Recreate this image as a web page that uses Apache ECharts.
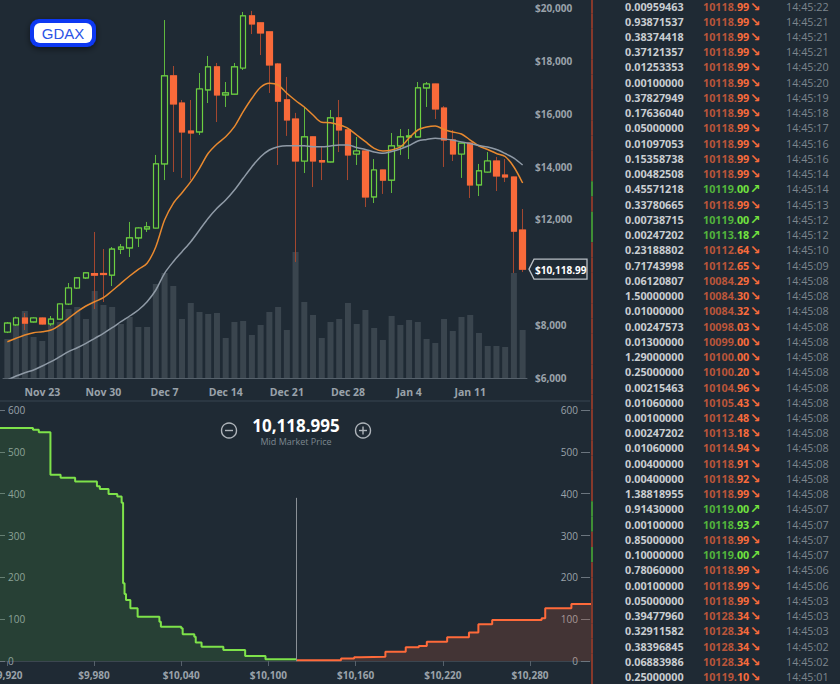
<!DOCTYPE html>
<html><head><meta charset="utf-8">
<script src="https://cdn.jsdelivr.net/npm/echarts@6/dist/echarts.min.js"></script>
<style>html,body{margin:0;padding:0;background:#1f2a34;overflow:hidden}#c{width:840px;height:684px}</style>
</head><body><div id="c"></div>
<script>
// ---------- candle chart data (Nov 19 2017 – Jan 17 2018, daily) ----------
const dates = ['Nov 19','Nov 20','Nov 21','Nov 22','Nov 23','Nov 24','Nov 25','Nov 26','Nov 27','Nov 28','Nov 29','Nov 30',
'Dec 1','Dec 2','Dec 3','Dec 4','Dec 5','Dec 6','Dec 7','Dec 8','Dec 9','Dec 10','Dec 11','Dec 12','Dec 13','Dec 14','Dec 15','Dec 16','Dec 17','Dec 18','Dec 19','Dec 20','Dec 21','Dec 22','Dec 23','Dec 24','Dec 25','Dec 26','Dec 27','Dec 28','Dec 29','Dec 30','Dec 31',
'Jan 1','Jan 2','Jan 3','Jan 4','Jan 5','Jan 6','Jan 7','Jan 8','Jan 9','Jan 10','Jan 11','Jan 12','Jan 13','Jan 14','Jan 15','Jan 16','Jan 17'];
const opens  = [7740,8010,8270,8120,8270,8045,8230,8800,9405,9785,9955,9955,9895,10880,10920,11300,11640,11675,14100,17430,16405,15345,15310,16900,17770,16710,16745,17730,19700,19435,19095,17880,16520,15800,14210,15120,14230,14175,15840,15385,14475,14590,12850,13870,13490,14780,15120,15120,16975,17125,16215,15005,14475,14890,13305,13795,14210,13680,13605,11600];
const closes = [8080,8270,8080,8270,8045,8230,8800,9405,9785,9975,9895,9915,10880,10955,11300,11675,11715,14100,17430,16370,15310,15270,16935,17770,16710,16785,17770,19700,19395,19055,17845,16480,15765,14210,15120,14210,14175,15840,15385,14440,14590,12850,13870,13490,14780,15120,15160,16975,17125,16180,15005,14475,14890,13305,13835,14210,13645,13605,11560,10118.99];
const lows   = [7700,7970,7815,8100,8020,7970,8210,8760,9370,9745,8610,8875,9480,10690,10580,10955,11525,11660,13490,13795,13570,13490,15195,16405,15685,16255,16740,17655,19015,18220,16785,14060,15160,10390,13755,13225,13490,14160,14550,13490,14060,12470,12620,12965,13000,14440,14285,15110,16255,15800,13985,14210,13570,12810,12885,13780,13075,13415,9975,10010];
const highs  = [8120,8320,8460,8290,8290,8345,8820,9595,9820,9990,11525,10880,10955,11070,11905,11700,11905,14440,19545,17805,16520,16520,17540,18185,17920,17200,17920,19850,19890,19450,19100,17920,17390,16030,16255,15140,14740,16140,16520,15400,15120,14600,14285,13880,15270,15420,15420,17200,17200,17140,16290,15385,14900,14900,14100,14550,14365,14285,13620,12395];
const volumes = [39,52,67,41,37,53,56,69,71,59,87,73,71,54,61,51,51,94,105,92,59,75,66,64,65,40,56,57,43,53,66,71,48,126,76,63,40,56,59,75,54,68,50,38,62,53,58,56,39,35,59,47,61,63,45,32,32,31,105,48];
const maFast = [7373,7502,7627,7714,7752,7816,8005,8259,8509,8724,8887,9038,9303,9583,9859,10113,10340,10968,11978,12610,13011,13428,13935,14502,14854,15130,15509,16076,16583,17000,17151,17087,16772,16500,16254,15951,15675,15660,15573,15448,15195,14941,14691,14589,14627,14741,15081,15384,15497,15535,15403,15308,15232,15005,14778,14646,14495,14380,13984,13378];
const maSlow = [5924,6076,6201,6303,6454,6617,6806,6995,7146,7313,7502,7691,7903,8130,8346,8573,8887,9330,9962,10401,10779,11157,11600,12043,12421,12735,13114,13556,13995,14374,14627,14752,14790,14790,14790,14752,14752,14778,14816,14816,14722,14646,14551,14502,14570,14665,14797,14968,15024,15070,15043,15005,14930,14873,14797,14741,14646,14495,14324,14060];
const lastPrice = 10118.99;
const priceMin = 6000, priceMax = 20000, priceStep = 2000;

// ---------- depth chart data ----------
const bidPrices = [9900,9938,9942,9950,9957,9967,9982,9984,9990,9996,9999,10000,10001,10002,10005,10010,10025,10026,10040,10041,10049,10050,10054,10069,10084,10098,10118.99];
const bidDepth  = [557,553,547,445,438,429,418,411,399,393,378,186,160,146,126,106,94,82,78,64,58,44,34,26,12,4,2];
const askPrices = [10118.99,10150,10159,10163.5,10180.5,10194.5,10203.5,10209,10223,10238,10244.5,10254,10288,10290.5,10308.5,10340];
const askDepth  = [2,6,9,10,22,33,36,46,57,68,88,98,102,126,136,136];
const depthTicks = [9920,9980,10040,10100,10160,10220,10280];
const midPrice = 10118.995;
const midLineTop = 390;

// ---------- trade history ----------
const tradeSizes = ['0.00959463','0.93871537','0.38374418','0.37121357','0.01253353','0.00100000','0.37827949','0.17636040','0.05000000','0.01097053','0.15358738','0.00482508','0.45571218','0.33780665','0.00738715','0.00247202','0.23188802','0.71743998','0.06120807','1.50000000','0.01000000','0.00247573','0.01300000','1.29000000','0.25000000','0.00215463','0.01060000','0.00100000','0.00247202','0.01060000','0.00400000','0.00400000','1.38818955','0.91430000','0.00100000','0.85000000','0.10000000','0.78060000','0.00100000','0.05000000','0.39477960','0.32911582','0.38396845','0.06883986','0.25000000'];
const tradePrices = ['10118.99','10118.99','10118.99','10118.99','10118.99','10118.99','10118.99','10118.99','10118.99','10118.99','10118.99','10118.99','10119.00','10118.99','10119.00','10113.18','10112.64','10112.65','10084.29','10084.30','10084.32','10098.03','10099.00','10100.00','10100.20','10104.96','10105.43','10112.48','10113.18','10114.94','10118.91','10118.92','10118.99','10119.00','10118.93','10118.99','10119.00','10118.99','10118.99','10118.99','10128.34','10128.34','10128.34','10128.34','10119.10'];
const tradeSides = ['s','s','s','s','s','s','s','s','s','s','s','s','b','s','b','b','s','s','s','s','s','s','s','s','s','s','s','s','s','s','s','s','s','b','b','s','b','s','s','s','s','s','s','s','s'];
const tradeTimes = ['14:45:22','14:45:21','14:45:21','14:45:21','14:45:20','14:45:20','14:45:19','14:45:18','14:45:17','14:45:16','14:45:16','14:45:14','14:45:14','14:45:13','14:45:12','14:45:12','14:45:10','14:45:09','14:45:08','14:45:08','14:45:08','14:45:08','14:45:08','14:45:08','14:45:08','14:45:08','14:45:08','14:45:08','14:45:08','14:45:08','14:45:08','14:45:08','14:45:08','14:45:07','14:45:07','14:45:07','14:45:07','14:45:06','14:45:06','14:45:03','14:45:03','14:45:03','14:45:02','14:45:02','14:45:01'];

// ---------- styles ----------
const BG = '#1f2a34';
const AX = '#9aa2aa';
const FONT = '"Open Sans", "DejaVu Sans", sans-serif';
const UP = '#6dd041', UP_WICK = '#5fb83e', DN = '#f86a3a', DN_WICK = '#a3472f';
const labelEvery7 = (i) => i >= 4 && (i - 4) % 7 === 0;

const chart = echarts.init(document.getElementById('c'), null, {renderer: 'svg'});

const candleFull = opens.map((o, i) => [o, closes[i], lows[i], highs[i]]);
const candleBody = opens.map((o, i) => [o, closes[i], Math.min(o, closes[i]), Math.max(o, closes[i])]);

const option = {
  backgroundColor: BG,
  animation: false,
  grid: [
    {left: 3, right: 313, top: 8, height: 370, containLabel: false, outerBoundsMode: 'none'},
    {left: 0, right: 250, top: 410, height: 251, containLabel: false, outerBoundsMode: 'none'}
  ],
  xAxis: [
    {type: 'category', gridIndex: 0, data: dates, boundaryGap: true,
      axisLine: {lineStyle: {color: '#56616b', width: 1}},
      axisTick: {alignWithLabel: true, interval: labelEvery7, length: 5, lineStyle: {color: '#56616b'}},
      axisLabel: {interval: labelEvery7, color: AX, fontWeight: 'bold', fontSize: 10.5, fontFamily: FONT, margin: 8},
      splitLine: {show: false}},
    {type: 'value', gridIndex: 1, min: 9915.3, max: 10321.3,
      axisLine: {show: true, lineStyle: {color: '#3b4650'}},
      axisTick: {show: true, customValues: depthTicks, length: 5, lineStyle: {color: '#56616b'}},
      axisLabel: {customValues: depthTicks, color: AX, fontWeight: 'bold', fontSize: 10, fontFamily: FONT, margin: 9,
        formatter: v => '$' + Number(v).toLocaleString('en-US')},
      splitLine: {show: false}}
  ],
  yAxis: [
    {type: 'value', gridIndex: 0, position: 'right', min: priceMin, max: priceMax, interval: priceStep,
      axisLine: {show: false}, axisTick: {show: false}, splitLine: {show: false},
      axisLabel: {color: AX, fontWeight: 'bold', fontSize: 10, fontFamily: FONT, margin: 8,
        formatter: v => (Math.abs(v - lastPrice) < 600 ? '' : '$' + v.toLocaleString('en-US'))}},
    {type: 'value', gridIndex: 0, min: 0, max: 370, show: false},
    {type: 'value', gridIndex: 1, position: 'left', min: 0, max: 600, interval: 100,
      axisLine: {show: false}, axisTick: {show: true, inside: true, length: 5, lineStyle: {color: '#6b757e'}},
      axisLabel: {inside: true, color: AX, fontSize: 10, fontFamily: FONT, margin: 8}, splitLine: {show: false}},
    {type: 'value', gridIndex: 1, position: 'right', min: 0, max: 600, interval: 100,
      axisLine: {show: false}, axisTick: {show: true, inside: true, length: 9, lineStyle: {color: '#6b757e'}},
      axisLabel: {inside: true, color: AX, fontSize: 10, fontFamily: FONT, margin: 12}, splitLine: {show: false}}
  ],
  series: [
    {type: 'bar', name: 'volume', xAxisIndex: 0, yAxisIndex: 1, data: volumes, barWidth: 6, silent: true,
      itemStyle: {color: 'rgba(115,124,133,0.33)'}, z: 1},
    {type: 'candlestick', name: 'wicks', xAxisIndex: 0, yAxisIndex: 0, data: candleFull, barWidth: 6, silent: true,
      itemStyle: {color: UP_WICK, color0: DN_WICK, borderColor: UP_WICK, borderColor0: DN_WICK, borderWidth: 1}, z: 2},
    {type: 'candlestick', name: 'bodies', xAxisIndex: 0, yAxisIndex: 0, data: candleBody, barWidth: 6, silent: true,
      itemStyle: {color: BG, color0: DN, borderColor: UP, borderColor0: DN, borderWidth: 1.2}, z: 3},
    {type: 'line', name: 'fast', xAxisIndex: 0, yAxisIndex: 0, data: maFast, symbol: 'none', smooth: 0.3, silent: true,
      lineStyle: {color: '#e8892f', width: 1.5}, z: 4},
    {type: 'line', name: 'slow', xAxisIndex: 0, yAxisIndex: 0, data: maSlow, symbol: 'none', smooth: 0.3, silent: true,
      lineStyle: {color: '#8f9aa6', width: 1.5}, z: 4},
    {type: 'line', name: 'bids', xAxisIndex: 1, yAxisIndex: 2, step: 'end', symbol: 'none', silent: true,
      data: bidPrices.map((p, i) => [p, bidDepth[i]]),
      lineStyle: {color: '#7ee24a', width: 2}, areaStyle: {color: 'rgba(80,170,60,0.25)'}, z: 3},
    {type: 'line', name: 'asks', xAxisIndex: 1, yAxisIndex: 2, step: 'end', symbol: 'none', silent: true,
      data: askPrices.map((p, i) => [p, askDepth[i]]),
      lineStyle: {color: '#ff6a3a', width: 2}, areaStyle: {color: 'rgba(240,100,60,0.25)'}, z: 3,
      markLine: {silent: true, symbol: 'none', label: {show: false},
        lineStyle: {color: '#8a9096', width: 1, type: 'solid'},
        data: [[{coord: [midPrice, 0]}, {coord: [midPrice, midLineTop]}]]}}
  ]
};
chart.setOption(option);

// ---------- overlay elements ----------
const els = [];
els.push({type: 'line', shape: {x1: 0, y1: 401, x2: 590, y2: 401}, style: {stroke: '#2b3742', lineWidth: 2}, silent: true});

// GDAX badge
els.push({type: 'rect', shape: {x: 30, y: 19, width: 66, height: 28, r: 9},
  style: {fill: '#0a37f2', shadowBlur: 6, shadowColor: 'rgba(0,0,0,0.5)', shadowOffsetY: 2}, silent: true});
els.push({type: 'rect', shape: {x: 34, y: 23, width: 58, height: 20, r: 6}, style: {fill: '#ffffff'}, silent: true});
els.push({type: 'text', x: 63, y: 33.5, style: {text: 'GDAX', fill: '#2a53e6', font: '15px "Liberation Sans", Arial, sans-serif',
  textAlign: 'center', align: 'center', textVerticalAlign: 'middle', verticalAlign: 'middle'}, silent: true});

// last price tag
const tagY = chart.convertToPixel({yAxisIndex: 0}, lastPrice);
const tx = 529;
els.push({type: 'polygon', shape: {points: [[tx, tagY], [tx + 5, tagY - 10], [tx + 58, tagY - 10], [tx + 58, tagY + 10], [tx + 5, tagY + 10]]},
  style: {fill: BG, stroke: '#b8bec4', lineWidth: 1.3}, silent: true});
els.push({type: 'text', x: tx + 6, y: tagY + 0.5, style: {text: '$' + lastPrice.toLocaleString('en-US', {minimumFractionDigits: 2}),
  fill: '#ffffff', font: 'bold 10px ' + FONT, textAlign: 'left', align: 'left', textVerticalAlign: 'middle', verticalAlign: 'middle'}, silent: true});

// mid market price header
const midX = chart.convertToPixel({xAxisIndex: 1}, midPrice);
els.push({type: 'text', x: midX, y: 425, style: {text: midPrice.toLocaleString('en-US', {minimumFractionDigits: 3}),
  fill: '#ffffff', font: 'bold 17px ' + FONT, textAlign: 'center', align: 'center', textVerticalAlign: 'middle', verticalAlign: 'middle'}, silent: true});
els.push({type: 'text', x: midX, y: 441.5, style: {text: 'Mid Market Price', fill: '#7d878f', font: '9px ' + FONT,
  textAlign: 'center', align: 'center', textVerticalAlign: 'middle', verticalAlign: 'middle'}, silent: true});
[[-67, false], [67, true]].forEach(([dx, plus]) => {
  const cx = midX + dx, cy = 430.5;
  els.push({type: 'circle', shape: {cx, cy, r: 7.5}, style: {fill: 'none', stroke: '#aeb4ba', lineWidth: 1.4}, silent: true});
  els.push({type: 'line', shape: {x1: cx - 4, y1: cy, x2: cx + 4, y2: cy}, style: {stroke: '#aeb4ba', lineWidth: 1.4}, silent: true});
  if (plus) els.push({type: 'line', shape: {x1: cx, y1: cy - 4, x2: cx, y2: cy + 4}, style: {stroke: '#aeb4ba', lineWidth: 1.4}, silent: true});
});

// trade history list
const ctx = document.createElement('canvas').getContext('2d');
const tradeFont = 'bold 10.8px ' + FONT;
ctx.font = tradeFont;
const rowTop = 6, rowH = 15.24;
tradeSizes.forEach((s, i) => {
  const y = rowTop + i * rowH;
  const buy = tradeSides[i] === 'b';
  const dot = tradePrices[i].indexOf('.');
  const intPart = tradePrices[i].slice(0, dot + 1), decPart = tradePrices[i].slice(dot + 1);
  els.push({type: 'rect', shape: {x: 591, y: y - rowH / 2, width: 2, height: rowH}, style: {fill: buy ? '#3f8f35' : '#86392b'}, silent: true});
  const base = {textAlign: 'left', align: 'left', textVerticalAlign: 'middle', verticalAlign: 'middle', font: tradeFont};
  els.push({type: 'text', x: 625, y, style: Object.assign({text: s, fill: '#c9cdd1'}, base), silent: true});
  els.push({type: 'text', x: 703, y, style: Object.assign({text: intPart, fill: buy ? '#52b33c' : '#b9553a'}, base), silent: true});
  const w = ctx.measureText(intPart).width;
  els.push({type: 'text', x: 703 + w, y, style: Object.assign({text: decPart, fill: buy ? '#72e23f' : '#f86b3c'}, base), silent: true});
  els.push({type: 'text', x: 750, y, style: Object.assign({}, base, {text: buy ? '↗' : '↘', fill: buy ? '#72e23f' : '#f86b3c', font: 'bold 12.5px "DejaVu Sans", sans-serif'}), silent: true});
  els.push({type: 'text', x: 786, y, style: Object.assign({}, base, {text: tradeTimes[i], fill: '#7d868e', font: '10.8px ' + FONT}), silent: true});
});

chart.setOption({graphic: {elements: els}});
</script>
</body></html>
